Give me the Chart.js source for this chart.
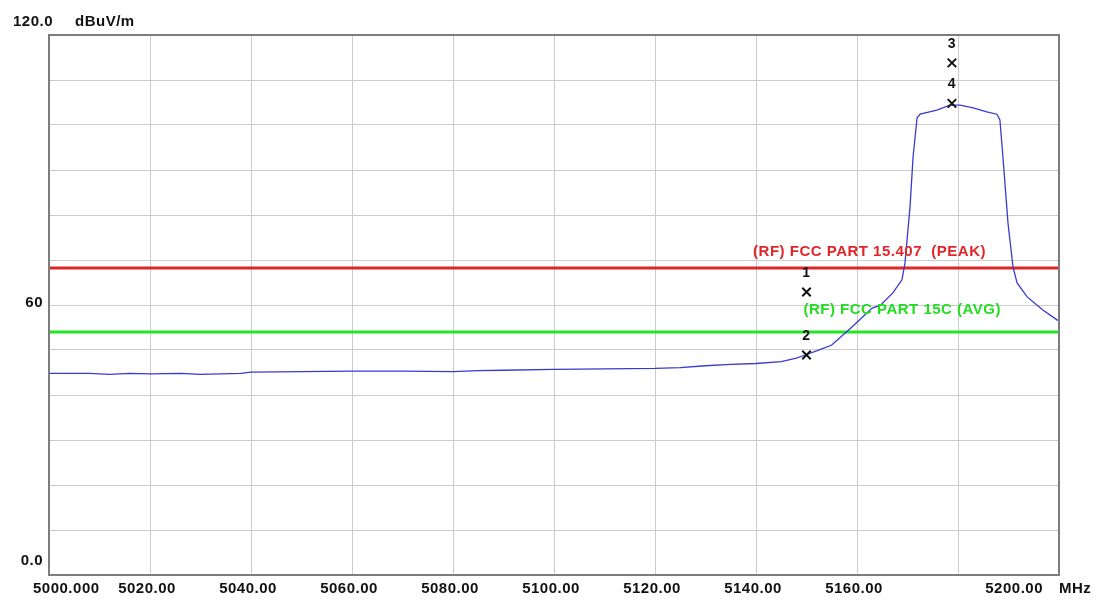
<!DOCTYPE html>
<html>
<head>
<meta charset="utf-8">
<script src="https://cdn.jsdelivr.net/npm/chart.js@4.4.1/dist/chart.umd.min.js"></script>
<style>
  html, body { margin: 0; padding: 0; background: #fff; }
  #wrap { width: 1099px; height: 601px; position: relative; }
</style>
</head>
<body>
<div id="wrap"><canvas id="c"></canvas></div>
<script>
// spectrum trace
const freqMHz = [5000, 5008, 5012, 5016, 5020, 5026, 5030, 5038, 5040, 5050, 5060, 5070, 5080, 5085, 5090, 5100,
  5110, 5120, 5125, 5130, 5135, 5140, 5145, 5148, 5150, 5152, 5155, 5159, 5163, 5164.6, 5167.1, 5168.9, 5169.5,
  5170.5, 5171.1, 5171.9, 5172.5, 5175.8, 5178.4, 5180.4, 5183, 5185.7, 5187.7, 5188.3, 5188.9, 5189.9, 5190.9,
  5191.7, 5193.7, 5196.8, 5199.6, 5200];
const levelDbuv = [44.8, 44.8, 44.6, 44.8, 44.7, 44.8, 44.6, 44.8, 45.1, 45.2, 45.3, 45.3, 45.2, 45.4, 45.5, 45.7,
  45.8, 45.9, 46.1, 46.5, 46.8, 47.0, 47.4, 48.2, 49.0, 49.8, 51.1, 55.1, 59.3, 59.9, 62.7, 65.6, 69.3,
  81.8, 92.9, 101.6, 102.4, 103.3, 104.4, 104.4, 103.8, 102.9, 102.4, 101.1, 92.9, 78.2, 68.4,
  64.9, 61.8, 58.9, 56.7, 56.5];

const peakLimit = 68.2;
const avgLimit = 54.0;
const peakLimitLabel = '(RF) FCC PART 15.407  (PEAK)';
const avgLimitLabel = '(RF) FCC PART 15C (AVG)';

const markerNames = ['1', '2', '3', '4'];
const markerFreq = [5150, 5150, 5178.8, 5178.8];
const markerLevel = [62.9, 48.9, 113.8, 104.8];

const xTickValues = [5000, 5020, 5040, 5060, 5080, 5100, 5120, 5140, 5160, 5200];
const xTickLabels = ['5000.000', '5020.00', '5040.00', '5060.00', '5080.00', '5100.00', '5120.00', '5140.00', '5160.00', '5200.00'];
const yTickValues = [120, 60, 0];
const yTickLabels = ['120.0', '60', '0.0'];
const xUnit = 'MHz';
const yUnit = 'dBuV/m';

const FONT = '"Liberation Sans", Arial, sans-serif';

const textPlugin = {
  id: 'emiText',
  afterDraw(chart){
    const ctx = chart.ctx;
    const xs = chart.scales.x, ys = chart.scales.y;
    const a = chart.chartArea;
    ctx.save();
    // frame
    ctx.strokeStyle = '#7d7d7d';
    ctx.lineWidth = 2;
    ctx.strokeRect(a.left, a.top, a.right - a.left, a.bottom - a.top);

    ctx.fillStyle = '#111';
    ctx.font = 'bold 15px ' + FONT;
    ctx.letterSpacing = '0.5px';
    ctx.textBaseline = 'middle';

    // x tick labels
    xTickValues.forEach((v, i)=>{
      let px = xs.getPixelForValue(v);
      if(i === 0){ ctx.textAlign = 'left'; px -= 16; }
      else if(i === xTickValues.length - 1){ ctx.textAlign = 'right'; px -= 16; }
      else { ctx.textAlign = 'center'; px -= 3; }
      ctx.fillText(xTickLabels[i], px, a.bottom + 14);
    });
    ctx.textAlign = 'left';
    ctx.fillText(xUnit, a.right, a.bottom + 14);

    // y tick labels
    yTickValues.forEach((v, i)=>{
      let py = ys.getPixelForValue(v);
      ctx.textAlign = 'right';
      if(v === ys.max){ ctx.fillText(yTickLabels[i], 53, py - 13); }
      else if(v === ys.min){ ctx.fillText(yTickLabels[i], 43, py - 14); }
      else { ctx.fillText(yTickLabels[i], 43, py - 2); }
    });
    ctx.textAlign = 'left';
    ctx.fillText(yUnit, 75, ys.getPixelForValue(ys.max) - 13);

    // limit line labels
    ctx.textAlign = 'right';
    ctx.fillStyle = '#e0262a';
    ctx.fillText(peakLimitLabel, a.right - 73, ys.getPixelForValue(peakLimit) - 16);
    ctx.fillStyle = '#22dd22';
    ctx.fillText(avgLimitLabel, a.right - 58, ys.getPixelForValue(avgLimit) - 22);

    // marker numbers
    ctx.fillStyle = '#111';
    ctx.font = 'bold 14px ' + FONT;
    ctx.textAlign = 'center';
    markerNames.forEach((n, i)=>{
      ctx.fillText(n, xs.getPixelForValue(markerFreq[i]), ys.getPixelForValue(markerLevel[i]) - 19);
    });
    ctx.restore();
  }
};

const gridOpts = { color: '#cbcbcb', lineWidth: 1, drawTicks: false };

new Chart(document.getElementById('c'), {
  type: 'line',
  data: {
    datasets: [
      {
        type: 'scatter',
        data: markerFreq.map((f, i)=>({ x: f, y: markerLevel[i] })),
        pointStyle: 'crossRot', pointRadius: 6, borderColor: '#111', borderWidth: 2,
        showLine: false
      },
      {
        data: freqMHz.map((f, i)=>({ x: f, y: levelDbuv[i] })),
        borderColor: '#3a3ad0', borderWidth: 1.3, pointRadius: 0, tension: 0, fill: false
      },
      {
        data: [{ x: 5000, y: peakLimit }, { x: 5200, y: peakLimit }],
        borderColor: '#e0262a', borderWidth: 3, pointRadius: 0, fill: false
      },
      {
        data: [{ x: 5000, y: avgLimit }, { x: 5200, y: avgLimit }],
        borderColor: '#22e622', borderWidth: 3, pointRadius: 0, fill: false
      }
    ]
  },
  options: {
    responsive: true,
    maintainAspectRatio: false,
    animation: false,
    layout: { padding: { top: 35, right: 40, left: 0, bottom: 0 } },
    plugins: { legend: { display: false }, tooltip: { enabled: false } },
    scales: {
      x: {
        type: 'linear', min: 5000, max: 5200,
        ticks: { display: false, stepSize: 20 },
        grid: gridOpts, border: { display: false },
        afterFit: s => { s.height = 26; }
      },
      y: {
        min: 0, max: 120,
        ticks: { display: false, stepSize: 10 },
        grid: gridOpts, border: { display: false },
        afterFit: s => { s.width = 49; }
      }
    }
  },
  plugins: [textPlugin]
});
</script>
</body>
</html>
